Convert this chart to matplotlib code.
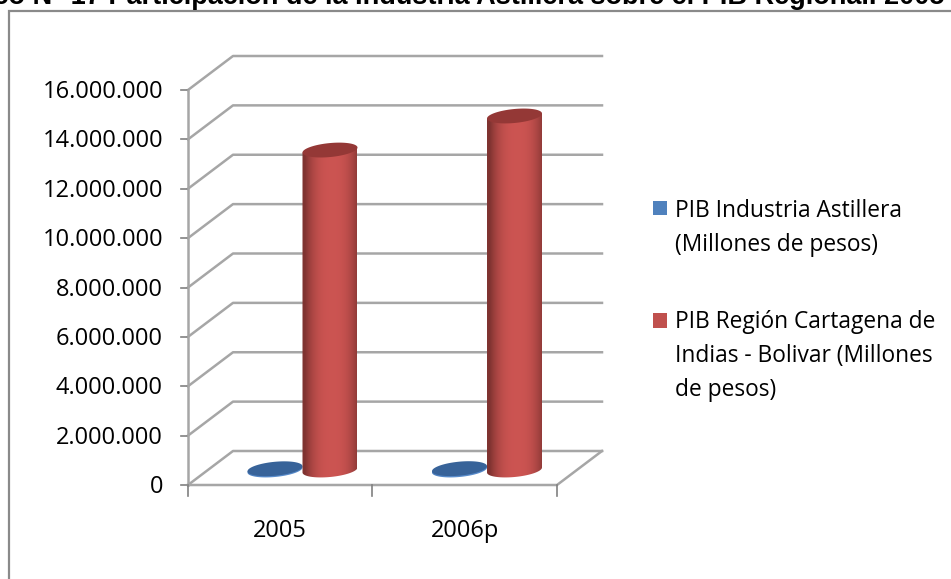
import matplotlib
matplotlib.use('Agg')
import matplotlib.pyplot as plt
import numpy as np
from matplotlib.patches import Rectangle, Polygon, PathPatch
from matplotlib.path import Path

# Data
categories = ['2005', '2006p']
pib_astillera = [50000, 55000]
pib_region = [12960000, 14340000]
series_names = ['PIB Industria Astillera\n(Millones de pesos)',
                'PIB Región Cartagena de\nIndias - Bolivar (Millones\nde pesos)']
y_ticks = [0, 2000000, 4000000, 6000000, 8000000, 10000000, 12000000, 14000000, 16000000]
y_labels = ['0', '2.000.000', '4.000.000', '6.000.000', '8.000.000',
            '10.000.000', '12.000.000', '14.000.000', '16.000.000']
title = 'Gráfico N° 17 Participación de la Industria Astillera sobre el PIB Regional. 2005'

W, H = 951, 579
plt.rcParams['font.family'] = ['Open Sans', 'DejaVu Sans']
fig = plt.figure(figsize=(W / 100, H / 100), dpi=100)

# axes = front plane of the fake 3d box
ax = fig.add_axes([188 / W, 1 - 485 / H, 369 / W, 395 / H])
ax.set_xlim(0, 2)
ax.set_ylim(0, 16000000)
ax.axis('off')

# one pixel in data units
px = 2 / 369
py = 16000000 / 395
dx = 45 * px
dy = 34 * py
grid = '#a6a6a6'

fig.add_artist(Rectangle((9 / W, -0.05), (W + 20) / W, 1 - 11 / H + 0.05, transform=fig.transFigure,
                         fc='none', ec='#8a8a8a', lw=1.6))
fig.text(945 / W, 1 - 4 / H, title, ha='right', va='baseline', fontsize=19.5, fontweight='bold',
         family=['Liberation Sans'], color='black')

for t in y_ticks:
    ax.plot([0, dx, 2 + dx], [t, t + dy, t + dy], color=grid, lw=1.8, clip_on=False, zorder=1)
    ax.plot([-7 * px, 0], [t, t], color='#808080', lw=1.2, clip_on=False, zorder=1)
ax.plot([0, 0], [0, 16000000], color=grid, lw=1.8, clip_on=False, zorder=1)
ax.plot([0, 2, 2 + dx], [0, 0, dy], color=grid, lw=1.8, clip_on=False, zorder=1)
for c in [0, 1, 2]:
    ax.plot([c, c], [0, -11 * py], color='#808080', lw=1.2, clip_on=False, zorder=1)

for t, lab in zip(y_ticks, y_labels):
    ax.text(-25 * px, t - 2 * py, lab, ha='right', va='center', fontsize=17, clip_on=False)
for i, c in enumerate(categories):
    ax.text(i + 0.5, -46 * py, c, ha='center', va='center', fontsize=17, clip_on=False)


def cylinder(cx, val, w, h, tilt, base, colors, z):
    # cylinder with tilted ellipses at base and top, shaded left to right
    x0 = cx - w / 2
    x1 = cx + w / 2
    top = base + val
    t = np.linspace(np.pi, 2 * np.pi, 40)
    xs = cx + w / 2 * np.cos(t)
    ys = base + h / 2 * np.sin(t) + tilt * np.cos(t)
    verts = list(zip(xs, ys)) + [(x1, top + tilt), (x0, top - tilt), (x0, base - tilt)]
    clip = PathPatch(Path(verts), transform=ax.transData, fc='none', ec='none')
    ax.add_patch(clip)
    u = np.linspace(-1, 1, 120)
    shade = np.clip(np.abs(u - 0.1) ** 2.6, 0, 1)
    rgb = np.outer(1 - shade, colors[0]) + np.outer(shade, colors[1])
    im = ax.imshow(rgb[np.newaxis, :, :], extent=[x0, x1, base - h, top + h], aspect='auto',
                   zorder=z, interpolation='bilinear')
    im.set_clip_path(clip)
    t = np.linspace(0, 2 * np.pi, 80)
    ell = np.column_stack([cx + w / 2 * np.cos(t), top + h / 2 * np.sin(t) + tilt * np.cos(t)])
    ax.add_patch(Polygon(ell, fc=colors[2], ec='none', zorder=z + 0.1))


bar_w = 55 * px
base_y = 15 * py
red = [(0.80, 0.33, 0.32), (0.50, 0.20, 0.19), (0.58, 0.22, 0.21)]
blue = [(0.35, 0.55, 0.80), (0.30, 0.50, 0.75), (0.22, 0.39, 0.60)]
for i in range(len(categories)):
    cylinder(i + 142 * px, pib_region[i], bar_w, 14 * py, 2.5 * py, base_y, red, 4)
    cylinder(i + 87 * px, pib_astillera[i], bar_w, 14 * py, 2.5 * py, base_y, blue, 3)

ax.set_xlim(0, 2)
ax.set_ylim(0, 16000000)

# legend by hand, to keep the line breaks
fig.text(675 / W, 1 - 228 / H, series_names[0], va='center', ha='left', fontsize=16.4, linespacing=1.58)
fig.text(675 / W, 1 - 356 / H, series_names[1], va='center', ha='left', fontsize=16.4, linespacing=1.58)
fig.add_artist(Rectangle((653 / W, 1 - 215 / H), 14 / W, 14 / H, transform=fig.transFigure, fc='#4f81bd', ec='none'))
fig.add_artist(Rectangle((653 / W, 1 - 328 / H), 14 / W, 15 / H, transform=fig.transFigure, fc='#c0504d', ec='none'))

fig.savefig('out.png', dpi=100)
